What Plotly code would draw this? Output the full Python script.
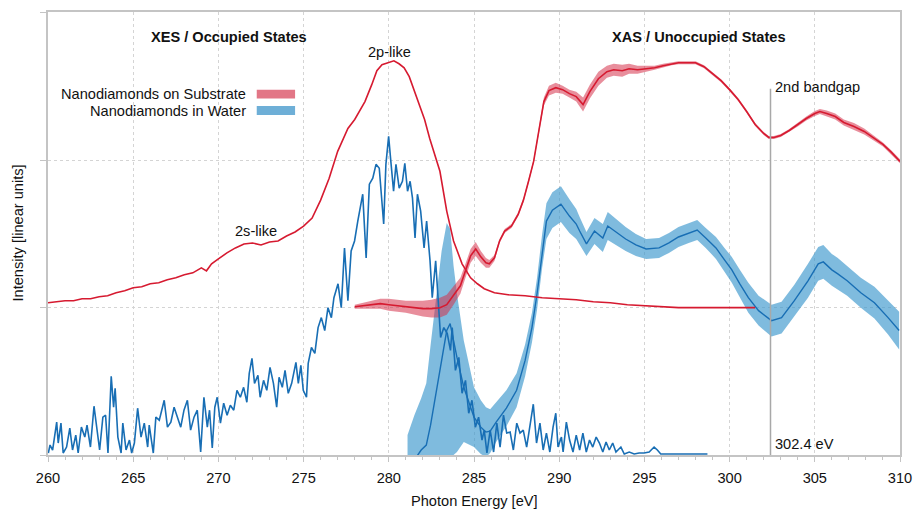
import plotly.graph_objects as go

# ---------------- data ----------------
# XES, nanodiamonds on substrate (red, emission)
sub_xes_e = [260.0,260.5,261.0,261.5,262.0,262.5,263.0,263.5,264.0,264.5,265.0,265.5,266.0,266.5,267.0,267.5,268.0,268.5,269.0,
             269.3,269.6,270.0,270.5,271.0,271.5,272.0,272.5,273.0,273.5,274.0,274.5,275.0,275.5,276.0,276.5,277.0,
             277.3,277.6,278.0,278.3,278.6,279.0,279.3,279.6,280.0,280.3,280.6,280.9,281.2,281.5,281.8,282.1,282.4,282.7,
             283.0,283.4,283.8,284.3,284.8,285.2,285.6,286.2,287.0,288.0,289.0,290.0,291.0,292.0,293.0,294.0,295.0,296.0,
             297.0,298.0,299.0,300.0,301.0,301.5]
sub_xes_i = [153,154,155,155,157,157,159,160,163,165,168,169,172,173,176,178,181,183,188,
             185,192,197,203,208,212,213,211,214,215,220,224,230,238,256,278,305,
             316,328,337,346,355,372,386,392,394,396,393,389,380,365,352,337,318,302,
             285,245,215,192,178,172,167,163,161,160,158,157,156,154,153,151,150,149,
             148,148,148,148,148,148]

# XAS, nanodiamonds on substrate (red, absorption with uncertainty band)
sub_xas_e = [278.0,278.5,279.0,279.5,280.0,280.5,281.0,281.5,282.0,282.5,283.0,283.4,283.8,284.2,284.5,284.8,
             285.1,285.4,285.7,285.9,286.2,286.5,286.8,287.2,287.6,287.9,288.2,288.5,288.8,289.1,289.4,289.8,
             290.2,290.6,291.0,291.4,291.8,292.3,292.8,293.2,293.7,294.1,294.6,295.1,295.6,296.1,296.6,
             297.0,297.5,298.0,298.5,299.0,299.5,300.0,300.5,301.0,301.5,302.0,302.3,302.6,
             303.0,303.5,304.0,304.5,305.0,305.3,305.7,306.2,306.7,307.3,307.9,308.5,309.0,309.5,310.0]
sub_xas_i = [149,150,151,152,151,150,149,148,147,147,148,151,160,170,185,200,
             207,199,193,192,198,215,225,230,242,256,275,295,325,355,366,369,
             367,363,360,352,365,378,385,387,386,388,387,388,389,391,393,
             394,394,394,390,383,376,367,357,345,332,323,319,319,
             321,326,332,338,343,345,343,340,334,330,325,318,312,304,295]
sub_xas_err = [2,3,4,5,6,6,6,7,8,9,10,10,9,8,7,7,
               7,6,5,4,3,2,2,2,2,2,2,2,3,4,5,5,
               4,4,5,7,7,7,6,6,6,5,4,3,2,2,1.5,
               1.5,1.5,1.5,1.5,1.5,1.5,1.5,1.5,1.5,1.5,1.5,1.5,1.5,
               1.5,1.5,2,2,2.5,2.5,3,3,3,3.5,3,2.5,2,2,2]

# XES, nanodiamonds in water (blue, emission)
wat_xes_e = [260.02,260.12,260.27,260.51,260.60,260.76,260.89,261.09,261.28,261.44,
             261.63,261.77,261.96,262.16,262.29,262.49,262.70,262.84,263.03,263.22,
             263.38,263.52,263.71,263.85,263.94,264.10,264.29,264.39,264.58,264.78,
             264.91,265.07,265.26,265.46,265.65,265.85,265.94,266.18,266.33,266.53,
             266.82,267.01,267.21,267.40,267.60,267.79,267.98,268.18,268.37,268.57,
             268.76,268.96,269.15,269.35,269.48,269.64,269.79,269.93,270.12,270.31,
             270.51,270.70,270.90,271.09,271.29,271.48,271.67,271.81,271.97,272.12,
             272.32,272.45,272.65,272.84,273.03,273.23,273.42,273.56,273.75,273.91,
             274.10,274.30,274.55,274.69,274.84,274.98,275.17,275.27,
             275.46,275.66,275.85,276.04,276.24,276.43,276.63,276.78,277.02,277.21,
             277.40,277.60,277.79,277.99,278.18,278.47,278.67,278.86,279.06,279.25,
             279.44,279.70,279.83,279.99,280.12,280.28,280.42,280.61,280.80,280.94,
             281.10,281.25,281.39,281.54,281.68,281.87,282.07,282.22,282.42,282.55,
             282.75,282.94,283.04,283.23,283.43,
             283.62,283.72,283.91,284.11,284.30,284.50,284.69,284.88,285.08,285.27,285.47,285.60,285.76,
             285.95,286.15,286.34,286.53,286.73,286.92,287.12,287.31,287.51,287.70,
             287.89,288.09,288.28,288.48,288.67,288.87,289.06,289.25,289.45,289.64,
             289.80,289.93,290.13,290.23,290.42,290.61,290.81,291.00,291.20,291.39,
             291.59,291.78,291.97,292.17,292.36,292.56,292.75,292.94,293.14,293.33,
             293.62,293.82,294.11,294.40,294.69,294.98,295.28,295.57,295.76,295.96,
             298.70]
wat_xes_i = [2,10,5,33,12,32,2,8,27,5,
             20,2,28,18,30,8,49,32,5,38,
             40,2,79,48,67,18,2,32,5,15,
             2,12,47,18,32,8,30,2,38,35,
             55,28,33,48,37,28,45,55,25,38,
             45,3,58,28,45,7,48,58,32,52,
             40,50,45,65,58,68,53,82,97,72,
             80,58,75,65,88,72,48,78,68,85,
             62,72,93,72,90,65,58,92,
             108,102,128,138,125,148,138,158,172,148,
             208,155,205,215,235,262,198,272,278,292,
             288,232,292,320,295,265,292,268,275,293,
             265,275,258,218,262,245,208,235,195,158,
             195,148,118,128,122,
             105,128,85,98,62,75,42,55,28,38,15,25,2,
             25,3,32,8,40,22,23,5,32,22,
             25,8,28,51,12,32,5,22,3,28,
             42,8,18,3,33,15,3,20,5,22,
             3,15,8,18,12,3,13,5,12,3,
             8,1,3,1,2,2,3,8,5,1,
             1]

# XAS, nanodiamonds in water (blue, absorption with uncertainty band)
wat_xas_e = [281.1,281.5,281.9,282.2,282.45,282.65,282.84,283.1,283.4,283.6,
             283.8,284.0,284.4,285.0,285.4,285.7,285.95,286.3,286.9,287.5,
             288.0,288.4,288.7,289.0,289.25,289.6,290.1,290.6,291.0,291.2,
             291.6,292.07,292.56,292.85,293.33,293.9,294.5,295.1,295.86,296.44,
             297.0,297.6,298.1,298.6,299.2,299.7,300.13,300.6,301.1,301.7,
             302.46,303.05,303.8,304.6,305.2,305.5,306.0,306.35,306.9,307.7,
             308.5,309.3,309.95]
wat_xas_i = [-20,-5,5,10,30,50,66,95,125,132,
             115,98,68,38,28,23,24,33,47,65,
             95,128,162,205,235,246,252,240,232,225,
             212,225,218,230,224,217,211,207,208,213,
             219,223,226,218,208,196,186,172,158,145,
             135,138,155,175,192,194,186,182,175,163,
             153,138,125]
wat_xas_err_hi = [40,45,52,62,80,90,100,110,108,95,
                  75,64,47,30,27,25,22,20,18,17,
                  16,15,16,17,18,18,18,17,15,14,
                  12,13,14,14,13,12,11,10,10,10,
                  10,10,10,10,11,12,13,14,15,15,
                  16,16,16,17,17,17,16,16,15,15,
                  16,17,19]
wat_xas_err_lo = [40,45,52,62,80,90,100,110,135,135,
                  115,95,55,30,27,25,22,20,18,17,
                  16,15,16,17,18,18,18,17,15,14,
                  12,13,14,14,13,12,11,10,10,10,
                  10,10,10,10,11,12,13,14,15,15,
                  16,16,16,17,17,17,16,16,15,15,
                  16,17,19]

series_names = ["Nanodiamonds on Substrate", "Nanodiamonds in Water"]
x_ticks = [260, 265, 270, 275, 280, 285, 290, 295, 300, 305, 310]
y_grid = [0, 148, 296, 445]
bandgap_e = 302.4

for a, b in [(sub_xes_e, sub_xes_i), (sub_xas_e, sub_xas_i), (sub_xas_e, sub_xas_err),
             (wat_xes_e, wat_xes_i), (wat_xas_e, wat_xas_i), (wat_xas_e, wat_xas_err_hi),
             (wat_xas_e, wat_xas_err_lo)]:
    assert len(a) == len(b), (len(a), len(b))

# ---------------- styling ----------------
FONT = "Liberation Sans, Arial, Helvetica, sans-serif"
FS = 14.6
RED = "rgb(214,26,48)"
RED_BAND = "rgba(214,50,75,0.55)"
BLUE = "rgb(24,110,180)"
BLUE_BAND = "rgba(58,150,205,0.65)"
RED_SW = "rgb(226,118,134)"
BLUE_SW = "rgb(110,175,215)"


def band(e, center, err_hi, err_lo, color):
    hi = [c + h for c, h in zip(center, err_hi)]
    lo = [c - l for c, l in zip(center, err_lo)]
    return go.Scatter(x=list(e) + list(e)[::-1], y=hi + lo[::-1], fill="toself",
                      fillcolor=color, line=dict(width=0), mode="lines",
                      hoverinfo="skip", showlegend=False)


fig = go.Figure()
fig.add_trace(band(wat_xas_e, wat_xas_i, wat_xas_err_hi, wat_xas_err_lo, BLUE_BAND))
fig.add_trace(band(sub_xas_e, sub_xas_i, sub_xas_err, sub_xas_err, RED_BAND))
fig.add_trace(go.Scatter(x=wat_xes_e, y=wat_xes_i, mode="lines", line=dict(color=BLUE, width=1.6),
                         name=series_names[1], showlegend=False))
fig.add_trace(go.Scatter(x=wat_xas_e, y=wat_xas_i, mode="lines", line=dict(color=BLUE, width=1.4),
                         name=series_names[1], showlegend=False))
fig.add_trace(go.Scatter(x=sub_xes_e, y=sub_xes_i, mode="lines", line=dict(color=RED, width=1.6),
                         name=series_names[0], showlegend=False))
fig.add_trace(go.Scatter(x=sub_xas_e, y=sub_xas_i, mode="lines", line=dict(color=RED, width=1.6),
                         name=series_names[0], showlegend=False))

# vertical marker line at the 2nd bandgap
fig.add_shape(type="line", x0=bandgap_e, x1=bandgap_e, y0=0, y1=368, xref="x", yref="y",
              line=dict(color="#a8a8a8", width=1.5), layer="above")

# custom legend (text left of swatch)
for k, (nm, sw, yc) in enumerate([(series_names[0], RED_SW, 362.5), (series_names[1], BLUE_SW, 346)]):
    fig.add_shape(type="rect", x0=272.25, x1=274.5, y0=yc - 4.5, y1=yc + 4.5, xref="x", yref="y",
                  line=dict(width=0), fillcolor=sw, layer="above")
    fig.add_annotation(x=271.75, y=yc, xref="x", yref="y", text=nm, showarrow=False,
                       xanchor="right", yanchor="middle", font=dict(size=FS, color="#111", family=FONT))

ann = [
    dict(x=270.65, y=420, text="<b>XES / Occupied States</b>", xanchor="center"),
    dict(x=298.2, y=420, text="<b>XAS / Unoccupied States</b>", xanchor="center"),
    dict(x=280.05, y=405, text="2p-like", xanchor="center"),
    dict(x=272.2, y=225, text="2s-like", xanchor="center"),
    dict(x=302.55, y=370, text="2nd bandgap", xanchor="left"),
    dict(x=302.55, y=11, text="302.4 eV", xanchor="left"),
]
for a in ann:
    fig.add_annotation(xref="x", yref="y", showarrow=False, yanchor="middle",
                       font=dict(size=FS, color="#111", family=FONT), **a)

# axis titles
fig.add_annotation(x=0.5, y=0, xref="paper", yref="paper", text="Photon Energy [eV]", showarrow=False,
                   xanchor="center", yanchor="middle", yshift=-46, font=dict(size=FS, color="#111", family=FONT))
fig.add_annotation(x=0, y=0.5, xref="paper", yref="paper", text="Intensity [linear units]", showarrow=False,
                   textangle=-90, xanchor="center", yanchor="middle", xshift=-31,
                   font=dict(size=FS, color="#111", family=FONT))

fig.update_layout(
    width=922, height=511,
    margin=dict(l=48, r=16, t=10, b=56),
    paper_bgcolor="white", plot_bgcolor="white",
    showlegend=False,
    font=dict(family=FONT, size=FS, color="#111"),
    xaxis=dict(range=[260, 310], tickvals=x_ticks, ticktext=[str(v) for v in x_ticks],
               showline=True, linecolor="#c4c4c4", linewidth=2, mirror=True,
               ticks="outside", ticklen=5, tickcolor="#c4c4c4", tickwidth=1,
               ticklabelstandoff=3,
               minor=dict(dtick=1, tick0=260, ticks="outside", ticklen=3, tickcolor="#c4c4c4", showgrid=False),
               showgrid=True, gridcolor="#d4d4d4", griddash="dot", gridwidth=1,
               zeroline=False, tickfont=dict(size=FS, color="#111", family=FONT)),
    yaxis=dict(range=[0, 445], tickvals=y_grid, showticklabels=False,
               showline=True, linecolor="#c4c4c4", linewidth=2, mirror=True,
               ticks="outside", ticklen=6, tickcolor="#c4c4c4",
               showgrid=True, gridcolor="#d4d4d4", griddash="dot", gridwidth=1,
               zeroline=False),
)

fig.write_html("out.html", config={"displayModeBar": False},
               post_script="document.body.style.margin='0';document.body.style.overflow='hidden';")
